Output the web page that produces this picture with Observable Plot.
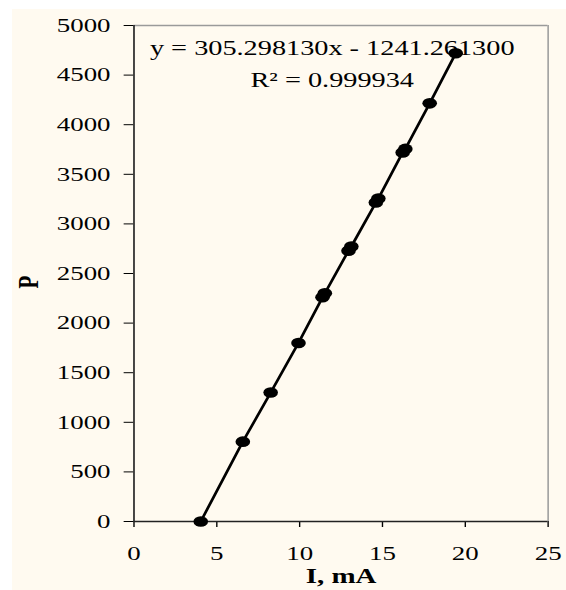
<!DOCTYPE html>
<html>
<head>
<meta charset="utf-8">
<script src="https://cdn.jsdelivr.net/npm/d3@7"></script>
<script src="https://cdn.jsdelivr.net/npm/@observablehq/plot@0.6"></script>
<style>
  html, body { margin: 0; padding: 0; background: #ffffff; }
  #chart { position: absolute; left: 12px; top: 9px; width: 554px; height: 581px; background: #fffaf0; overflow: hidden; }
</style>
</head>
<body>
<div id="chart"></div>
<script>
// Data
const currentMA = [4.03, 6.57, 8.25, 9.93, 11.38, 11.52, 12.95, 13.12, 14.60, 14.75, 16.22, 16.38, 17.85, 19.42];
const pressure  = [0, 805, 1300, 1800, 2260, 2300, 2730, 2772, 3215, 3255, 3720, 3756, 4215, 4720];
const xTicks = [0, 5, 10, 15, 20, 25];
const yTicks = [0, 500, 1000, 1500, 2000, 2500, 3000, 3500, 4000, 4500, 5000];
const equationLines = ["y = 305.298130x - 1241.261300", "R\u00B2 = 0.999934"];
const xLabel = "I, mA";
const yLabel = "P";

const data = currentMA.map((x, i) => ({x, y: pressure[i]}));

// The reference is stretched horizontally; draw at a narrower logical width and stretch.
const stretch = 1.38;
const outW = 554, outH = 581;
const W = outW / stretch;

const plot = Plot.plot({
  width: W,
  height: outH,
  marginLeft: 87.9,
  marginRight: W - 388.0,
  marginTop: 16,
  marginBottom: 69,
  style: {background: "#fffaf0", fontFamily: "'Liberation Serif', 'Times New Roman', serif", fontSize: "19.5px", color: "#000"},
  x: {domain: [0, 25], ticks: xTicks, tickSize: 6, tickPadding: 19, label: null, tickFormat: d => String(d)},
  y: {domain: [0, 5000], ticks: yTicks, tickSize: 7, tickPadding: 10, label: null, tickFormat: d => String(d)},
  marks: [
    Plot.ruleY([5000], {stroke: "#9a9a9a", strokeWidth: 1.3}),
    Plot.ruleX([25], {stroke: "#9a9a9a", strokeWidth: 1.1}),
    Plot.ruleX([0], {stroke: "#222", strokeWidth: 1.2}),
    Plot.ruleY([0], {stroke: "#222", strokeWidth: 1.4}),
    Plot.line(data, {x: "x", y: "y", stroke: "#000", strokeWidth: 2.1}),
    Plot.dot(data, {x: "x", y: "y", r: 5.3, fill: "#000", stroke: "none"}),
    Plot.text([equationLines.join("\n")], {text: d => d, frameAnchor: "top", lineAnchor: "top", dx: -6.4, dy: 6.8, fontSize: 20.5, lineHeight: 1.55, fill: "#000"}),
    Plot.text([xLabel], {text: d => d, frameAnchor: "bottom", dy: 61, fontSize: 21, fontWeight: "bold", fill: "#000"}),
    Plot.text([yLabel], {text: d => d, frameAnchor: "left", dx: -76.4, dy: 15, rotate: -90, fontSize: 21, fontWeight: "bold", fill: "#000"})
  ]
});

plot.setAttribute("width", outW);
plot.setAttribute("height", outH);
plot.setAttribute("preserveAspectRatio", "none");
plot.style.width = outW + "px";
plot.style.height = outH + "px";
plot.style.maxWidth = "none";
plot.style.display = "block";
document.getElementById("chart").appendChild(plot);
</script>
</body>
</html>
